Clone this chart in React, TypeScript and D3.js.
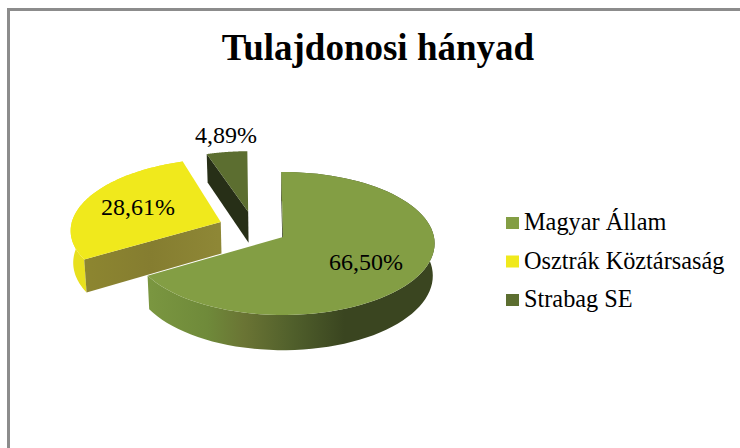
import React from "react";
import * as d3 from "d3";

const title = "Tulajdonosi hányad";
const categories = ["Magyar Állam", "Osztrák Köztársaság", "Strabag SE"];
const shares = [66.5, 28.61, 4.89];
const labels = ["66,50%", "28,61%", "4,89%"];

const topColors = ["#839e44", "#f0e91c", "#5c6e30"];

const W = 740, H = 448;
const cx = 283, cy = 237, rx = 151, ry = 70.9, k = 0.0909, depth = 32, taper = 0.012;
const serif = "'Liberation Serif', 'Times New Roman', serif";

// per-slice layout: explosion (in pie-plane units) and a screen-space nudge
const explode = [0, 0.46, 0.41];
const nudge: [number, number][] = [[0, 0], [2, -4], [-25, 2.5]];
const labelPos: [number, number][] = [[366, 270], [138, 215], [226, 143]];

const pieGen = d3.pie<number>().sort(null).startAngle(-0.012).endAngle(2 * Math.PI - 0.012);
const arcs = pieGen(shares);

type P = [number, number];
const path = d3.line<P>().x(d => d[0]).y(d => d[1]);

function project(x: number, y: number, i: number, drop: number): P {
  const w = 1 + k * y;
  const sx = (rx * x) / w + nudge[i][0];
  const t = 1 - (taper * drop) / depth;
  return [cx + sx * t, cy - (ry * y) / w + drop / w + nudge[i][1]];
}

function slicePoints(i: number) {
  const a = arcs[i];
  const mid = (a.startAngle + a.endAngle) / 2;
  const ox = explode[i] * Math.sin(mid);
  const oy = explode[i] * Math.cos(mid);
  const angles = d3.range(0, 81).map(n => a.startAngle + ((a.endAngle - a.startAngle) * n) / 80);
  const rim = (drop: number) => angles.map(t => project(ox + Math.sin(t), oy + Math.cos(t), i, drop));
  const apex = (drop: number) => project(ox, oy, i, drop);
  return { rim, apex };
}

function closed(pts: P[]) {
  return (path(pts) as string) + "Z";
}

function Slice({ i }: { i: number }) {
  const { rim, apex } = slicePoints(i);
  const top = rim(0);
  const bottom = rim(depth);
  const outer = closed([...top, ...[...bottom].reverse()]);
  const face = closed([apex(0), ...top]);
  const startFace = closed([apex(0), top[0], bottom[0], apex(depth)]);
  return (
    <g>
      {i === 0 && <path d={startFace} fill="#2a3216" />}
      {i === 0 && <path d={outer} fill="url(#sideMain)" />}
      {i === 1 && <path d={outer} fill="#e8e01e" />}
      {i === 1 && <path d={startFace} fill="url(#cutYellow)" />}
      {i === 2 && <path d={startFace} fill="#272f17" />}
      <path d={face} fill={topColors[i]} />
    </g>
  );
}

const legendY = d3.scalePoint<string>().domain(categories).range([230, 307]);

export default function App() {
  return (
    <svg
      width={W}
      height={H}
      viewBox={`0 0 ${W} ${H}`}
      style={{ position: "absolute", left: 0, top: 0, background: "#fff" }}
    >
      <defs>
        <linearGradient id="sideMain" gradientUnits="userSpaceOnUse" x1="150" x2="436" y1="0" y2="0">
          <stop offset="0" stopColor="#7a9640" />
          <stop offset="0.2" stopColor="#6f8a3a" />
          <stop offset="0.33" stopColor="#6a7434" />
          <stop offset="0.5" stopColor="#505f2b" />
          <stop offset="0.68" stopColor="#3a4520" />
          <stop offset="1" stopColor="#3a4520" />
        </linearGradient>
        <linearGradient id="cutYellow" gradientUnits="userSpaceOnUse" x1="83" x2="218" y1="0" y2="0">
          <stop offset="0" stopColor="#8d8630" />
          <stop offset="0.5" stopColor="#857d30" />
          <stop offset="1" stopColor="#8e8736" />
        </linearGradient>
      </defs>
      <path d={`M8.5 448V9.5H740`} fill="none" stroke="#8c8c8c" strokeWidth={3} />
      <text
        x={378}
        y={60}
        textAnchor="middle"
        fontFamily={serif}
        fontWeight="bold"
        fontSize={37}
        fill="#000"
      >
        {title}
      </text>
      {arcs.map((_, i) => (
        <Slice key={i} i={i} />
      ))}
      {labels.map((t, i) => (
        <text
          key={t}
          x={labelPos[i][0]}
          y={labelPos[i][1]}
          textAnchor="middle"
          fontFamily={serif}
          fontSize={24}
          fill="#000"
        >
          {t}
        </text>
      ))}
      {categories.map((c, i) => (
        <g key={c}>
          <rect x={506} y={(legendY(c) as number) - 13} width={13} height={12} fill={topColors[i]} />
          <text x={524} y={legendY(c)} fontFamily={serif} fontSize={24.3} fill="#000">
            {c}
          </text>
        </g>
      ))}
    </svg>
  );
}
